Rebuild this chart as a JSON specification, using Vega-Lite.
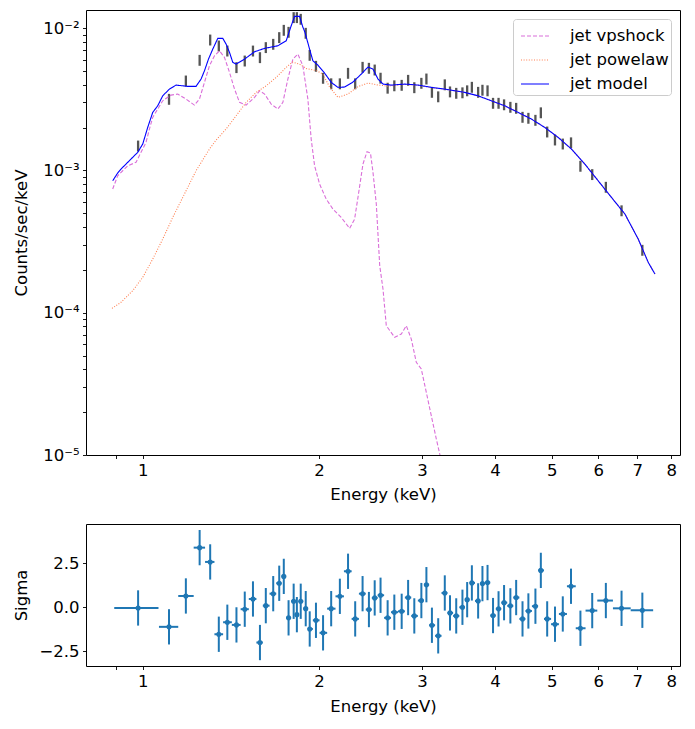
{
  "$schema": "https://vega.github.io/schema/vega-lite/v6.json",
  "padding": {"left": 12, "top": 9, "right": 13, "bottom": 5},
  "autosize": {"type": "pad"},
  "spacing": 19,
  "config": {
    "font": "DejaVu Sans",
    "view": {"stroke": "#000000", "strokeWidth": 1},
    "axis": {
      "labelFont": "DejaVu Sans", "titleFont": "DejaVu Sans",
      "labelFontSize": 16.5, "titleFontSize": 16.5, "titleFontWeight": "normal",
      "labelColor": "#000000", "titleColor": "#000000", "tickColor": "#000000",
      "tickSize": 3.5, "tickWidth": 0.9, "grid": false, "domain": false,
      "labelPadding": 3.5, "labelOverlap": false, "labelFlush": false
    }
  },
  "datasets": {
    "bins": [
      {"E": 0.982, "lo": 0.001358, "hi": 0.00162, "elo": 0.894, "ehi": 1.064, "r": -0.04, "rlo": -1.04, "rhi": 0.96},
      {"E": 1.109, "lo": 0.002891, "hi": 0.003449, "elo": 1.066, "ehi": 1.15, "r": -1.11, "rlo": -2.11, "rhi": -0.11},
      {"E": 1.185, "lo": 0.003889, "hi": 0.004639, "elo": 1.15, "ehi": 1.222, "r": 0.64, "rlo": -0.36, "rhi": 1.64},
      {"E": 1.251, "lo": 0.005434, "hi": 0.006482, "elo": 1.222, "ehi": 1.278, "r": 3.38, "rlo": 2.38, "rhi": 4.38},
      {"E": 1.304, "lo": 0.007547, "hi": 0.009003, "elo": 1.278, "ehi": 1.326, "r": 2.57, "rlo": 1.57, "rhi": 3.57},
      {"E": 1.349, "lo": 0.00685, "hi": 0.008172, "elo": 1.326, "ehi": 1.372, "r": -1.53, "rlo": -2.53, "rhi": -0.53},
      {"E": 1.395, "lo": 0.006315, "hi": 0.007533, "elo": 1.372, "ehi": 1.42, "r": -0.85, "rlo": -1.85, "rhi": 0.15},
      {"E": 1.446, "lo": 0.004828, "hi": 0.00576, "elo": 1.42, "ehi": 1.47, "r": -1.0, "rlo": -2.0, "rhi": 0.0},
      {"E": 1.494, "lo": 0.005373, "hi": 0.006409, "elo": 1.47, "ehi": 1.518, "r": -0.11, "rlo": -1.11, "rhi": 0.89},
      {"E": 1.543, "lo": 0.006315, "hi": 0.007533, "elo": 1.518, "ehi": 1.564, "r": 0.47, "rlo": -0.53, "rhi": 1.47},
      {"E": 1.586, "lo": 0.005674, "hi": 0.00677, "elo": 1.564, "ehi": 1.604, "r": -2.0, "rlo": -3.0, "rhi": -1.0},
      {"E": 1.623, "lo": 0.006675, "hi": 0.007963, "elo": 1.604, "ehi": 1.647, "r": 0.09, "rlo": -0.91, "rhi": 1.09},
      {"E": 1.671, "lo": 0.007041, "hi": 0.008399, "elo": 1.647, "ehi": 1.691, "r": 0.77, "rlo": -0.23, "rhi": 1.77},
      {"E": 1.711, "lo": 0.007847, "hi": 0.009361, "elo": 1.691, "ehi": 1.726, "r": 1.36, "rlo": 0.36, "rhi": 2.36},
      {"E": 1.742, "lo": 0.008829, "hi": 0.010533, "elo": 1.726, "ehi": 1.758, "r": 1.75, "rlo": 0.75, "rhi": 2.75},
      {"E": 1.775, "lo": 0.008549, "hi": 0.010199, "elo": 1.758, "ehi": 1.793, "r": -0.6, "rlo": -1.6, "rhi": 0.4},
      {"E": 1.811, "lo": 0.010844, "hi": 0.012936, "elo": 1.793, "ehi": 1.822, "r": 0.34, "rlo": -0.66, "rhi": 1.34},
      {"E": 1.834, "lo": 0.010844, "hi": 0.012936, "elo": 1.822, "ehi": 1.848, "r": -0.42, "rlo": -1.42, "rhi": 0.58},
      {"E": 1.862, "lo": 0.010552, "hi": 0.012588, "elo": 1.848, "ehi": 1.88, "r": 0.34, "rlo": -0.66, "rhi": 1.34},
      {"E": 1.899, "lo": 0.008412, "hi": 0.010036, "elo": 1.88, "ehi": 1.914, "r": -0.08, "rlo": -1.08, "rhi": 0.92},
      {"E": 1.929, "lo": 0.00589, "hi": 0.007026, "elo": 1.914, "ehi": 1.953, "r": -1.23, "rlo": -2.23, "rhi": -0.23},
      {"E": 1.977, "lo": 0.004932, "hi": 0.005884, "elo": 1.953, "ehi": 2.005, "r": -0.74, "rlo": -1.74, "rhi": 0.26},
      {"E": 2.033, "lo": 0.004062, "hi": 0.004846, "elo": 2.005, "ehi": 2.066, "r": -1.45, "rlo": -2.45, "rhi": -0.45},
      {"E": 2.099, "lo": 0.003716, "hi": 0.004434, "elo": 2.066, "ehi": 2.135, "r": -0.08, "rlo": -1.08, "rhi": 0.92},
      {"E": 2.172, "lo": 0.003716, "hi": 0.004434, "elo": 2.135, "ehi": 2.207, "r": 0.62, "rlo": -0.38, "rhi": 1.62},
      {"E": 2.243, "lo": 0.004403, "hi": 0.005253, "elo": 2.207, "ehi": 2.275, "r": 2.04, "rlo": 1.04, "rhi": 3.04},
      {"E": 2.307, "lo": 0.003716, "hi": 0.004434, "elo": 2.275, "ehi": 2.341, "r": -0.66, "rlo": -1.66, "rhi": 0.34},
      {"E": 2.375, "lo": 0.004853, "hi": 0.005789, "elo": 2.341, "ehi": 2.405, "r": 0.77, "rlo": -0.23, "rhi": 1.77},
      {"E": 2.435, "lo": 0.004775, "hi": 0.005697, "elo": 2.405, "ehi": 2.463, "r": -0.13, "rlo": -1.13, "rhi": 0.87},
      {"E": 2.491, "lo": 0.004645, "hi": 0.005541, "elo": 2.463, "ehi": 2.52, "r": 0.53, "rlo": -0.47, "rhi": 1.53},
      {"E": 2.549, "lo": 0.004068, "hi": 0.004854, "elo": 2.52, "ehi": 2.585, "r": 0.68, "rlo": -0.32, "rhi": 1.68},
      {"E": 2.621, "lo": 0.003461, "hi": 0.004129, "elo": 2.585, "ehi": 2.656, "r": -0.6, "rlo": -1.6, "rhi": 0.4},
      {"E": 2.691, "lo": 0.003598, "hi": 0.004292, "elo": 2.656, "ehi": 2.73, "r": -0.28, "rlo": -1.28, "rhi": 0.72},
      {"E": 2.77, "lo": 0.003626, "hi": 0.004326, "elo": 2.73, "ehi": 2.805, "r": -0.23, "rlo": -1.23, "rhi": 0.77},
      {"E": 2.841, "lo": 0.003932, "hi": 0.00469, "elo": 2.805, "ehi": 2.876, "r": 0.55, "rlo": -0.45, "rhi": 1.55},
      {"E": 2.911, "lo": 0.003489, "hi": 0.004163, "elo": 2.876, "ehi": 2.952, "r": -0.49, "rlo": -1.49, "rhi": 0.51},
      {"E": 2.993, "lo": 0.003746, "hi": 0.00447, "elo": 2.952, "ehi": 3.023, "r": 0.38, "rlo": -0.62, "rhi": 1.38},
      {"E": 3.053, "lo": 0.004016, "hi": 0.004792, "elo": 3.023, "ehi": 3.086, "r": 1.28, "rlo": 0.28, "rhi": 2.28},
      {"E": 3.12, "lo": 0.003238, "hi": 0.003862, "elo": 3.086, "ehi": 3.159, "r": -1.02, "rlo": -2.02, "rhi": -0.02},
      {"E": 3.198, "lo": 0.003011, "hi": 0.003591, "elo": 3.159, "ehi": 3.24, "r": -1.62, "rlo": -2.62, "rhi": -0.62},
      {"E": 3.282, "lo": 0.003656, "hi": 0.004362, "elo": 3.24, "ehi": 3.316, "r": 0.81, "rlo": -0.19, "rhi": 1.81},
      {"E": 3.35, "lo": 0.003259, "hi": 0.003889, "elo": 3.316, "ehi": 3.391, "r": -0.32, "rlo": -1.32, "rhi": 0.68},
      {"E": 3.433, "lo": 0.003187, "hi": 0.003801, "elo": 3.391, "ehi": 3.475, "r": -0.49, "rlo": -1.49, "rhi": 0.51},
      {"E": 3.518, "lo": 0.003212, "hi": 0.003832, "elo": 3.475, "ehi": 3.551, "r": 0.0, "rlo": -1.0, "rhi": 1.0},
      {"E": 3.584, "lo": 0.003318, "hi": 0.003958, "elo": 3.551, "ehi": 3.617, "r": 0.43, "rlo": -0.57, "rhi": 1.43},
      {"E": 3.651, "lo": 0.003512, "hi": 0.00419, "elo": 3.617, "ehi": 3.696, "r": 1.38, "rlo": 0.38, "rhi": 2.38},
      {"E": 3.742, "lo": 0.003238, "hi": 0.003862, "elo": 3.696, "ehi": 3.774, "r": 0.36, "rlo": -0.64, "rhi": 1.36},
      {"E": 3.806, "lo": 0.00335, "hi": 0.003996, "elo": 3.774, "ehi": 3.844, "r": 1.34, "rlo": 0.34, "rhi": 2.34},
      {"E": 3.883, "lo": 0.003318, "hi": 0.003958, "elo": 3.844, "ehi": 3.925, "r": 1.4, "rlo": 0.4, "rhi": 2.4},
      {"E": 3.968, "lo": 0.00271, "hi": 0.003234, "elo": 3.925, "ehi": 4.011, "r": -0.47, "rlo": -1.47, "rhi": 0.53},
      {"E": 4.055, "lo": 0.00271, "hi": 0.003234, "elo": 4.011, "ehi": 4.099, "r": -0.09, "rlo": -1.09, "rhi": 0.91},
      {"E": 4.144, "lo": 0.002646, "hi": 0.003156, "elo": 4.099, "ehi": 4.196, "r": 0.26, "rlo": -0.74, "rhi": 1.26},
      {"E": 4.248, "lo": 0.002541, "hi": 0.003031, "elo": 4.196, "ehi": 4.297, "r": 0.08, "rlo": -0.92, "rhi": 1.08},
      {"E": 4.346, "lo": 0.0025, "hi": 0.002982, "elo": 4.297, "ehi": 4.401, "r": 0.55, "rlo": -0.45, "rhi": 1.55},
      {"E": 4.456, "lo": 0.002161, "hi": 0.002579, "elo": 4.401, "ehi": 4.508, "r": -0.66, "rlo": -1.66, "rhi": 0.34},
      {"E": 4.56, "lo": 0.002127, "hi": 0.002537, "elo": 4.508, "ehi": 4.624, "r": -0.21, "rlo": -1.21, "rhi": 0.79},
      {"E": 4.688, "lo": 0.002058, "hi": 0.002456, "elo": 4.624, "ehi": 4.738, "r": 0.06, "rlo": -0.94, "rhi": 1.06},
      {"E": 4.789, "lo": 0.002325, "hi": 0.002773, "elo": 4.738, "ehi": 4.849, "r": 2.09, "rlo": 1.09, "rhi": 3.09},
      {"E": 4.91, "lo": 0.001704, "hi": 0.002032, "elo": 4.849, "ehi": 4.986, "r": -0.66, "rlo": -1.66, "rhi": 0.34},
      {"E": 5.063, "lo": 0.001497, "hi": 0.001785, "elo": 4.986, "ehi": 5.142, "r": -0.96, "rlo": -1.96, "rhi": 0.04},
      {"E": 5.221, "lo": 0.001403, "hi": 0.001673, "elo": 5.142, "ehi": 5.307, "r": -0.38, "rlo": -1.38, "rhi": 0.62},
      {"E": 5.393, "lo": 0.00143, "hi": 0.001706, "elo": 5.307, "ehi": 5.494, "r": 1.19, "rlo": 0.19, "rhi": 2.19},
      {"E": 5.596, "lo": 0.0009786, "hi": 0.001167, "elo": 5.494, "ehi": 5.71, "r": -1.19, "rlo": -2.19, "rhi": -0.19},
      {"E": 5.862, "lo": 0.0008553, "hi": 0.0010203, "elo": 5.71, "ehi": 5.98, "r": -0.19, "rlo": -1.19, "rhi": 0.81},
      {"E": 6.185, "lo": 0.0006964, "hi": 0.0008308, "elo": 5.98, "ehi": 6.36, "r": 0.38, "rlo": -0.62, "rhi": 1.38},
      {"E": 6.579, "lo": 0.0004762, "hi": 0.000568, "elo": 6.36, "ehi": 6.82, "r": -0.06, "rlo": -1.06, "rhi": 0.94},
      {"E": 7.14, "lo": 0.0002513, "hi": 0.0002997, "elo": 6.82, "ehi": 7.45, "r": -0.17, "rlo": -1.17, "rhi": 0.83}
    ],
    "curves": [
      {"c": "jet vpshock", "E": 0.8886, "v": 0.0007393},
      {"c": "jet vpshock", "E": 0.9061, "v": 0.0009168},
      {"c": "jet vpshock", "E": 0.9427, "v": 0.001078},
      {"c": "jet vpshock", "E": 0.974, "v": 0.001139},
      {"c": "jet vpshock", "E": 0.9933, "v": 0.001339},
      {"c": "jet vpshock", "E": 1.0131, "v": 0.001574},
      {"c": "jet vpshock", "E": 1.0267, "v": 0.001951},
      {"c": "jet vpshock", "E": 1.0402, "v": 0.002359},
      {"c": "jet vpshock", "E": 1.0608, "v": 0.002698},
      {"c": "jet vpshock", "E": 1.0819, "v": 0.003084},
      {"c": "jet vpshock", "E": 1.1179, "v": 0.003382},
      {"c": "jet vpshock", "E": 1.1477, "v": 0.003438},
      {"c": "jet vpshock", "E": 1.1859, "v": 0.00317},
      {"c": "jet vpshock", "E": 1.2256, "v": 0.002877},
      {"c": "jet vpshock", "E": 1.25, "v": 0.00317},
      {"c": "jet vpshock", "E": 1.275, "v": 0.004154},
      {"c": "jet vpshock", "E": 1.3003, "v": 0.005434},
      {"c": "jet vpshock", "E": 1.3262, "v": 0.006385},
      {"c": "jet vpshock", "E": 1.3526, "v": 0.006924},
      {"c": "jet vpshock", "E": 1.3795, "v": 0.006222},
      {"c": "jet vpshock", "E": 1.4069, "v": 0.004886},
      {"c": "jet vpshock", "E": 1.4349, "v": 0.003727},
      {"c": "jet vpshock", "E": 1.4634, "v": 0.003006},
      {"c": "jet vpshock", "E": 1.502, "v": 0.002877},
      {"c": "jet vpshock", "E": 1.5528, "v": 0.003259},
      {"c": "jet vpshock", "E": 1.5838, "v": 0.003626},
      {"c": "jet vpshock", "E": 1.6153, "v": 0.003438},
      {"c": "jet vpshock", "E": 1.6579, "v": 0.002924},
      {"c": "jet vpshock", "E": 1.702, "v": 0.002698},
      {"c": "jet vpshock", "E": 1.7357, "v": 0.003006},
      {"c": "jet vpshock", "E": 1.7702, "v": 0.004383},
      {"c": "jet vpshock", "E": 1.8055, "v": 0.006056},
      {"c": "jet vpshock", "E": 1.8413, "v": 0.006568},
      {"c": "jet vpshock", "E": 1.8777, "v": 0.005434},
      {"c": "jet vpshock", "E": 1.9151, "v": 0.00317},
      {"c": "jet vpshock", "E": 1.9402, "v": 0.00166},
      {"c": "jet vpshock", "E": 1.9664, "v": 0.001078},
      {"c": "jet vpshock", "E": 2.0055, "v": 0.0008017},
      {"c": "jet vpshock", "E": 2.0583, "v": 0.0006289},
      {"c": "jet vpshock", "E": 2.1132, "v": 0.000535},
      {"c": "jet vpshock", "E": 2.1834, "v": 0.0004677},
      {"c": "jet vpshock", "E": 2.2569, "v": 0.0003914},
      {"c": "jet vpshock", "E": 2.3017, "v": 0.0004549},
      {"c": "jet vpshock", "E": 2.3323, "v": 0.0006462},
      {"c": "jet vpshock", "E": 2.3786, "v": 0.001108},
      {"c": "jet vpshock", "E": 2.4164, "v": 0.001352},
      {"c": "jet vpshock", "E": 2.4499, "v": 0.001323},
      {"c": "jet vpshock", "E": 2.4744, "v": 0.0009687},
      {"c": "jet vpshock", "E": 2.5068, "v": 0.00058},
      {"c": "jet vpshock", "E": 2.5408, "v": 0.0002138},
      {"c": "jet vpshock", "E": 2.5737, "v": 0.0001466},
      {"c": "jet vpshock", "E": 2.6073, "v": 0.000081},
      {"c": "jet vpshock", "E": 2.6949, "v": 0.00006713},
      {"c": "jet vpshock", "E": 2.7658, "v": 0.00007081},
      {"c": "jet vpshock", "E": 2.8208, "v": 0.000081},
      {"c": "jet vpshock", "E": 2.8768, "v": 0.0000653},
      {"c": "jet vpshock", "E": 2.9341, "v": 0.00004479},
      {"c": "jet vpshock", "E": 2.9924, "v": 0.00004019},
      {"c": "jet vpshock", "E": 3.0519, "v": 0.00002757},
      {"c": "jet vpshock", "E": 3.1121, "v": 0.00001888},
      {"c": "jet vpshock", "E": 3.1746, "v": 0.00001295},
      {"c": "jet vpshock", "E": 3.2174, "v": 0.00001016},
      {"c": "jet vpshock", "E": 3.2724, "v": 0.00000735},
      {"c": "jet powelaw", "E": 0.8862, "v": 0.0001073},
      {"c": "jet powelaw", "E": 0.9181, "v": 0.0001183},
      {"c": "jet powelaw", "E": 0.9614, "v": 0.0001427},
      {"c": "jet powelaw", "E": 1.0, "v": 0.0001772},
      {"c": "jet powelaw", "E": 1.0402, "v": 0.0002382},
      {"c": "jet powelaw", "E": 1.0819, "v": 0.0003292},
      {"c": "jet powelaw", "E": 1.1254, "v": 0.0004677},
      {"c": "jet powelaw", "E": 1.1706, "v": 0.0006462},
      {"c": "jet powelaw", "E": 1.2334, "v": 0.000994},
      {"c": "jet powelaw", "E": 1.3003, "v": 0.001413},
      {"c": "jet powelaw", "E": 1.3347, "v": 0.001633},
      {"c": "jet powelaw", "E": 1.3882, "v": 0.001951},
      {"c": "jet powelaw", "E": 1.444, "v": 0.002419},
      {"c": "jet powelaw", "E": 1.502, "v": 0.003006},
      {"c": "jet powelaw", "E": 1.5626, "v": 0.003533},
      {"c": "jet powelaw", "E": 1.6254, "v": 0.003931},
      {"c": "jet powelaw", "E": 1.6906, "v": 0.004503},
      {"c": "jet powelaw", "E": 1.7585, "v": 0.005294},
      {"c": "jet powelaw", "E": 1.802, "v": 0.005768},
      {"c": "jet powelaw", "E": 1.8535, "v": 0.005586},
      {"c": "jet powelaw", "E": 1.9024, "v": 0.005194},
      {"c": "jet powelaw", "E": 1.9787, "v": 0.005029},
      {"c": "jet powelaw", "E": 2.0317, "v": 0.00475},
      {"c": "jet powelaw", "E": 2.0862, "v": 0.003851},
      {"c": "jet powelaw", "E": 2.1554, "v": 0.003259},
      {"c": "jet powelaw", "E": 2.242, "v": 0.003438},
      {"c": "jet powelaw", "E": 2.3323, "v": 0.003882},
      {"c": "jet powelaw", "E": 2.4262, "v": 0.004108},
      {"c": "jet powelaw", "E": 2.5236, "v": 0.003976},
      {"c": "jet powelaw", "E": 2.6249, "v": 0.003913},
      {"c": "jet powelaw", "E": 2.8034, "v": 0.00402},
      {"c": "jet powelaw", "E": 2.9539, "v": 0.00396},
      {"c": "jet powelaw", "E": 3.1121, "v": 0.00382},
      {"c": "jet powelaw", "E": 3.2808, "v": 0.00372},
      {"c": "jet powelaw", "E": 3.5499, "v": 0.00353},
      {"c": "jet powelaw", "E": 3.7406, "v": 0.00334},
      {"c": "jet powelaw", "E": 3.9418, "v": 0.00308},
      {"c": "jet powelaw", "E": 4.1553, "v": 0.002844},
      {"c": "jet powelaw", "E": 4.3784, "v": 0.002557},
      {"c": "jet powelaw", "E": 4.6138, "v": 0.002294},
      {"c": "jet powelaw", "E": 4.8636, "v": 0.002005},
      {"c": "jet powelaw", "E": 5.1255, "v": 0.001707},
      {"c": "jet powelaw", "E": 5.401, "v": 0.001413},
      {"c": "jet powelaw", "E": 5.6934, "v": 0.001108},
      {"c": "jet powelaw", "E": 6.0003, "v": 0.0008455},
      {"c": "jet powelaw", "E": 6.3227, "v": 0.0006462},
      {"c": "jet powelaw", "E": 6.6668, "v": 0.0004934},
      {"c": "jet powelaw", "E": 7.025, "v": 0.0003292},
      {"c": "jet powelaw", "E": 7.3072, "v": 0.0002259},
      {"c": "jet powelaw", "E": 7.5028, "v": 0.0001869},
      {"c": "jet model", "E": 0.8886, "v": 0.0008455},
      {"c": "jet model", "E": 0.9061, "v": 0.000958},
      {"c": "jet model", "E": 0.9181, "v": 0.001022},
      {"c": "jet model", "E": 0.9364, "v": 0.001108},
      {"c": "jet model", "E": 0.955, "v": 0.001202},
      {"c": "jet model", "E": 0.9805, "v": 0.001339},
      {"c": "jet model", "E": 1.0, "v": 0.001531},
      {"c": "jet model", "E": 1.0199, "v": 0.002005},
      {"c": "jet model", "E": 1.0402, "v": 0.002557},
      {"c": "jet model", "E": 1.0608, "v": 0.002844},
      {"c": "jet model", "E": 1.0819, "v": 0.003343},
      {"c": "jet model", "E": 1.1108, "v": 0.003727},
      {"c": "jet model", "E": 1.14, "v": 0.003976},
      {"c": "jet model", "E": 1.1939, "v": 0.003894},
      {"c": "jet model", "E": 1.2334, "v": 0.003894},
      {"c": "jet model", "E": 1.258, "v": 0.004383},
      {"c": "jet model", "E": 1.275, "v": 0.005012},
      {"c": "jet model", "E": 1.2953, "v": 0.006056},
      {"c": "jet model", "E": 1.3174, "v": 0.007119},
      {"c": "jet model", "E": 1.3436, "v": 0.008466},
      {"c": "jet model", "E": 1.3703, "v": 0.008466},
      {"c": "jet model", "E": 1.3882, "v": 0.00772},
      {"c": "jet model", "E": 1.4069, "v": 0.006751},
      {"c": "jet model", "E": 1.4253, "v": 0.005741},
      {"c": "jet model", "E": 1.444, "v": 0.005586},
      {"c": "jet model", "E": 1.4929, "v": 0.006056},
      {"c": "jet model", "E": 1.5528, "v": 0.006817},
      {"c": "jet model", "E": 1.6153, "v": 0.007202},
      {"c": "jet model", "E": 1.702, "v": 0.007511},
      {"c": "jet model", "E": 1.7585, "v": 0.008143},
      {"c": "jet model", "E": 1.7935, "v": 0.01038},
      {"c": "jet model", "E": 1.8177, "v": 0.01208},
      {"c": "jet model", "E": 1.8535, "v": 0.01208},
      {"c": "jet model", "E": 1.8777, "v": 0.01016},
      {"c": "jet model", "E": 1.8926, "v": 0.009374},
      {"c": "jet model", "E": 1.928, "v": 0.007119},
      {"c": "jet model", "E": 1.9533, "v": 0.005891},
      {"c": "jet model", "E": 1.9921, "v": 0.005495},
      {"c": "jet model", "E": 2.0453, "v": 0.004828},
      {"c": "jet model", "E": 2.0992, "v": 0.004154},
      {"c": "jet model", "E": 2.1554, "v": 0.003833},
      {"c": "jet model", "E": 2.2131, "v": 0.003851},
      {"c": "jet model", "E": 2.2867, "v": 0.004174},
      {"c": "jet model", "E": 2.3628, "v": 0.004751},
      {"c": "jet model", "E": 2.4262, "v": 0.005321},
      {"c": "jet model", "E": 2.4744, "v": 0.005151},
      {"c": "jet model", "E": 2.5236, "v": 0.004383},
      {"c": "jet model", "E": 2.5737, "v": 0.004042},
      {"c": "jet model", "E": 2.6592, "v": 0.003976},
      {"c": "jet model", "E": 2.8034, "v": 0.004042},
      {"c": "jet model", "E": 2.9539, "v": 0.003976},
      {"c": "jet model", "E": 3.1121, "v": 0.003833},
      {"c": "jet model", "E": 3.2808, "v": 0.003727},
      {"c": "jet model", "E": 3.5499, "v": 0.003533},
      {"c": "jet model", "E": 3.7406, "v": 0.003343},
      {"c": "jet model", "E": 3.9418, "v": 0.003084},
      {"c": "jet model", "E": 4.1553, "v": 0.002844},
      {"c": "jet model", "E": 4.3784, "v": 0.002557},
      {"c": "jet model", "E": 4.6138, "v": 0.002294},
      {"c": "jet model", "E": 4.8636, "v": 0.002005},
      {"c": "jet model", "E": 5.1255, "v": 0.001707},
      {"c": "jet model", "E": 5.401, "v": 0.001413},
      {"c": "jet model", "E": 5.6934, "v": 0.001108},
      {"c": "jet model", "E": 6.0003, "v": 0.0008455},
      {"c": "jet model", "E": 6.3227, "v": 0.0006462},
      {"c": "jet model", "E": 6.6668, "v": 0.0004934},
      {"c": "jet model", "E": 7.025, "v": 0.0003292},
      {"c": "jet model", "E": 7.3072, "v": 0.0002259},
      {"c": "jet model", "E": 7.5028, "v": 0.0001869}
    ]
  },
  "vconcat": [
    {
      "width": 594,
      "height": 445,
      "layer": [
        {
          "data": {"name": "bins"},
          "mark": {"type": "rule", "color": "#555555", "strokeWidth": 2.3, "clip": true},
          "encoding": {
            "x": {
              "field": "E", "type": "quantitative",
              "scale": {"type": "log", "domain": [0.8, 8.28], "nice": false},
              "axis": {
                "title": "Energy (keV)", "titlePadding": 8,
                "values": [0.9, 1, 2, 3, 4, 5, 6, 7, 8],
                "labelExpr": "datum.value < 0.95 ? '' : format(datum.value, 'd')"
              }
            },
            "y": {
              "field": "lo", "type": "quantitative",
              "scale": {"type": "log", "domain": [0.00001, 0.0134], "nice": false},
              "axis": {
                "title": "Counts/sec/keV", "titlePadding": 13.5,
                "values": [0.00001, 0.00002, 0.00003, 0.00004, 0.00005, 0.00006, 0.00007, 0.00008, 0.00009, 0.0001, 0.0002, 0.0003, 0.0004, 0.0005, 0.0006, 0.0007, 0.0008, 0.0009, 0.001, 0.002, 0.003, 0.004, 0.005, 0.006, 0.007, 0.008, 0.009, 0.01],
                "labelExpr": "abs(datum.value-0.01) < 1e-9 ? '10⁻²' : abs(datum.value-0.001) < 1e-10 ? '10⁻³' : abs(datum.value-0.0001) < 1e-11 ? '10⁻⁴' : abs(datum.value-0.00001) < 1e-12 ? '10⁻⁵' : ''",
                "encode": {"ticks": {"update": {"x2": {"signal": "abs(log(datum.value)/LN10 - round(log(datum.value)/LN10)) < 0.001 ? -3.5 : -2"}}}}
              }
            },
            "y2": {"field": "hi"}
          }
        },
        {
          "data": {"name": "curves"},
          "mark": {"type": "line", "clip": true, "interpolate": "linear"},
          "encoding": {
            "x": {"field": "E", "type": "quantitative", "scale": {"type": "log", "domain": [0.8, 8.28], "nice": false}},
            "y": {"field": "v", "type": "quantitative", "title": "Counts/sec/keV", "scale": {"type": "log", "domain": [0.00001, 0.0134], "nice": false}},
            "color": {
              "field": "c", "type": "nominal",
              "scale": {"domain": ["jet vpshock", "jet powelaw", "jet model"], "range": ["#da6fd9", "#ff7f50", "#0000ff"]},
              "legend": {
                "orient": "none", "legendX": 427, "legendY": 9, "title": null,
                "symbolType": "stroke", "symbolSize": 784, "symbolStrokeWidth": 1.2, "symbolOffset": 5,
                "labelFontSize": 16.5, "labelFont": "DejaVu Sans", "labelColor": "#000000", "labelOffset": 20,
                "padding": 2, "rowPadding": -4.5,
                "fillColor": "#ffffff", "strokeColor": "#cccccc", "cornerRadius": 3
              }
            },
            "strokeDash": {
              "field": "c", "type": "nominal",
              "scale": {"domain": ["jet vpshock", "jet powelaw", "jet model"], "range": [[4, 2], [1, 1.6], [1, 0]]},
              "legend": {
                "orient": "none", "legendX": 427, "legendY": 9, "title": null,
                "symbolType": "stroke", "symbolSize": 784, "symbolStrokeWidth": 1.2, "symbolOffset": 5,
                "labelFontSize": 16.5, "labelFont": "DejaVu Sans", "labelColor": "#000000", "labelOffset": 20,
                "padding": 2, "rowPadding": -4.5,
                "fillColor": "#ffffff", "strokeColor": "#cccccc", "cornerRadius": 3
              }
            },
            "strokeWidth": {
              "field": "c", "type": "nominal",
              "scale": {"domain": ["jet vpshock", "jet powelaw", "jet model"], "range": [1.1, 1.1, 1.3]},
              "legend": null
            }
          }
        }
      ]
    },
    {
      "width": 594,
      "height": 142,
      "layer": [
        {
          "data": {"name": "bins"},
          "mark": {"type": "rule", "color": "#1f77b4", "strokeWidth": 2},
          "encoding": {
            "x": {
              "field": "E", "type": "quantitative",
              "scale": {"type": "log", "domain": [0.8, 8.28], "nice": false},
              "axis": {
                "title": "Energy (keV)", "titlePadding": 9,
                "values": [0.9, 1, 2, 3, 4, 5, 6, 7, 8],
                "labelExpr": "datum.value < 0.95 ? '' : format(datum.value, 'd')"
              }
            },
            "y": {
              "field": "rlo", "type": "quantitative",
              "scale": {"domain": [-3.33, 4.72], "nice": false, "zero": false},
              "axis": {"title": "Sigma", "titlePadding": 9, "values": [-2.5, 0, 2.5], "format": ".1f"}
            },
            "y2": {"field": "rhi"}
          }
        },
        {
          "data": {"name": "bins"},
          "mark": {"type": "rule", "color": "#1f77b4", "strokeWidth": 2},
          "encoding": {
            "x": {"field": "elo", "type": "quantitative", "scale": {"type": "log", "domain": [0.8, 8.28], "nice": false}, "title": "Energy (keV)"},
            "x2": {"field": "ehi"},
            "y": {"field": "r", "type": "quantitative", "title": "Sigma"}
          }
        },
        {
          "data": {"name": "bins"},
          "mark": {"type": "point", "filled": true, "shape": "circle", "color": "#1f77b4", "size": 26, "opacity": 1},
          "encoding": {
            "x": {"field": "E", "type": "quantitative", "scale": {"type": "log", "domain": [0.8, 8.28], "nice": false}, "title": "Energy (keV)"},
            "y": {"field": "r", "type": "quantitative", "title": "Sigma"}
          }
        },
        {
          "mark": {"type": "rule", "color": "#000000", "strokeWidth": 1.2},
          "encoding": {"y": {"datum": 0}}
        }
      ]
    }
  ]
}
